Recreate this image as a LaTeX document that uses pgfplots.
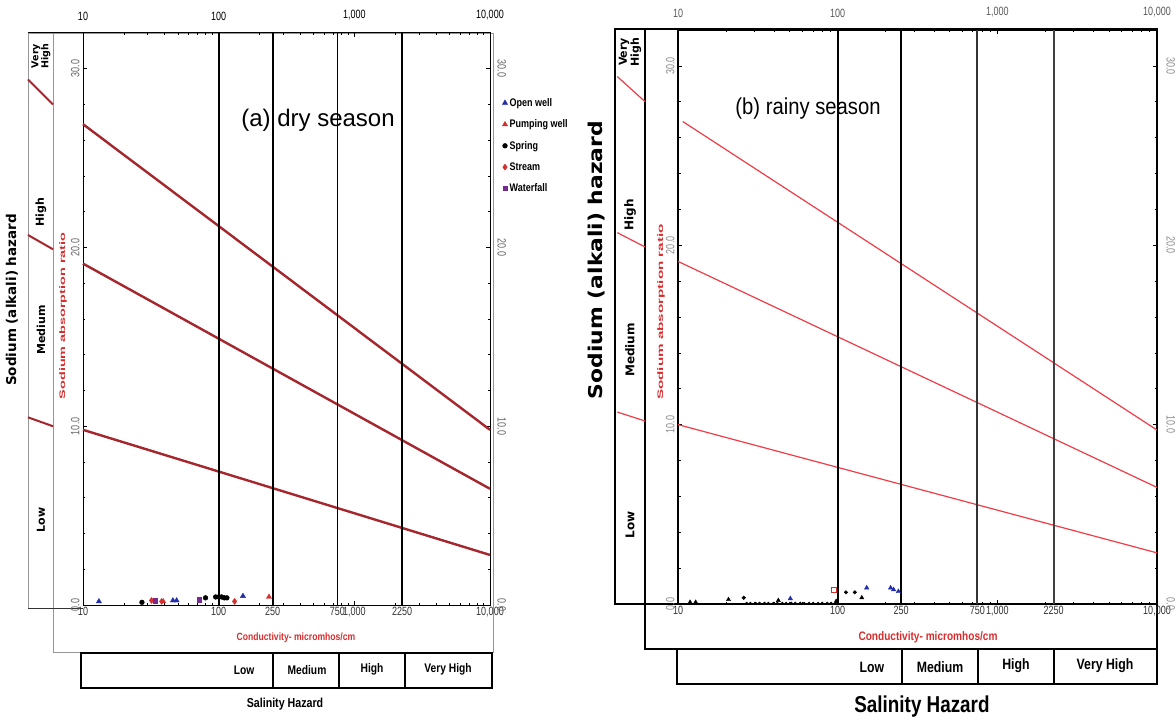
\documentclass[border=0pt]{standalone}
\usepackage{fontspec}
\setmainfont{Liberation Sans}
\newfontfamily\narrow[FakeStretch=0.82]{Liberation Sans}
\newfontfamily\tnarrow[FakeStretch=0.75]{Liberation Sans}
\newfontfamily\tfont[FakeStretch=0.88]{Liberation Sans}
\newfontfamily\dvb{DejaVu Sans}
\usepackage{pgfplots}
\pgfplotsset{compat=1.18}
\definecolor{lineA}{RGB}{165,38,45}
\definecolor{lineB}{RGB}{240,60,70}
\definecolor{redtxt}{RGB}{215,45,45}
\definecolor{bluem}{RGB}{35,45,170}
\definecolor{purm}{RGB}{120,40,145}
\definecolor{redm}{RGB}{215,45,45}
\definecolor{fgray}{RGB}{150,150,150}
\begin{document}
\begin{tikzpicture}[x=1pt,y=1pt]
\useasboundingbox (0,0) rectangle (1176,721);

\begin{scope}[yshift=721pt, y=-1pt]
% ---------------- panel (a) decorations
\draw[fgray, line width=0.7pt] (28,33) rectangle (53,608);
\draw[fgray, line width=0.7pt] (53,33) rectangle (493,652);
\draw[black, line width=1pt] (28,33) -- (83,33);
\draw[black!80, line width=1pt] (28,608) -- (83,608);
\draw[black, line width=1.3pt] (81,653) rectangle (492,688);
\draw[black, line width=1.3pt] (273,653)--(273,688) (339,653)--(339,688) (405,653)--(405,688);
\node[font=\narrow\bfseries\fontsize{12.5}{13}\selectfont] at (244,670) {Low};
\node[font=\narrow\bfseries\fontsize{12.5}{13}\selectfont] at (307,670) {Medium};
\node[font=\narrow\bfseries\fontsize{12.5}{13}\selectfont] at (372,669) {High};
\node[font=\narrow\bfseries\fontsize{12.5}{13}\selectfont] at (448,669) {Very High};
\node[font=\narrow\bfseries\fontsize{13}{14}\selectfont] at (285,704) {Salinity Hazard};
\node[font=\narrow\bfseries\fontsize{10.5}{11}\selectfont, text=redtxt] at (296,638) {Conductivity- micromhos/cm};
\node[font=\fontsize{24}{26}\selectfont] at (318,120) {(a) dry season};
\node[rotate=90, font=\dvb\bfseries\fontsize{13.5}{14}\selectfont] at (12,300) {Sodium (alkali) hazard};
\node[rotate=90, font=\bfseries\fontsize{8}{9}\selectfont, text=redtxt] at (63,316) {\scalebox{1.8}[1]{Sodium absorption ratio}};
\node[rotate=90, align=center, font=\dvb\bfseries\fontsize{9.5}{10}\selectfont] at (41,56) {Very\\High};
\node[rotate=90, font=\dvb\bfseries\fontsize{11}{12}\selectfont] at (41,212) {High};
\node[rotate=90, font=\dvb\bfseries\fontsize{11}{12}\selectfont] at (41,330) {Medium};
\node[rotate=90, font=\dvb\bfseries\fontsize{11}{12}\selectfont] at (41,520) {Low};

% ---------------- panel (b) decorations
\draw[black, line width=1.3pt] (615,29) rectangle (645,604);
\draw[black, line width=1.3pt] (645,29) rectangle (1157,649);
\draw[black, line width=1.3pt] (615,29) -- (678,29);
\draw[black, line width=1.3pt] (615,604) -- (678,604);
\draw[black, line width=1.3pt] (677,649) rectangle (1157,684);
\draw[black, line width=1.3pt] (902,649)--(902,684) (978,649)--(978,684) (1054,649)--(1054,684);
\node[font=\narrow\bfseries\fontsize{15}{16}\selectfont] at (872,667) {Low};
\node[font=\narrow\bfseries\fontsize{15}{16}\selectfont] at (940,667) {Medium};
\node[font=\narrow\bfseries\fontsize{15}{16}\selectfont] at (1016,666) {High};
\node[font=\narrow\bfseries\fontsize{15}{16}\selectfont] at (1105,666) {Very High};
\node[font=\narrow\bfseries\fontsize{23}{25}\selectfont] at (922,707) {Salinity Hazard};
\node[font=\narrow\bfseries\fontsize{12.3}{13}\selectfont, text=redtxt] at (928,637) {Conductivity- micromhos/cm};
\node[font=\tfont\fontsize{23}{25}\selectfont] at (808,109) {(b) rainy season};
\node[rotate=90, font=\dvb\bfseries\fontsize{19}{20}\selectfont] at (597,260) {\scalebox{1.15}[1]{Sodium (alkali) hazard}};
\node[rotate=90, font=\bfseries\fontsize{8}{9}\selectfont, text=redtxt] at (661,312) {\scalebox{1.9}[1]{Sodium absorption ratio}};
\node[rotate=90, align=center, font=\dvb\bfseries\fontsize{11}{12}\selectfont] at (630,52) {Very\\High};
\node[rotate=90, font=\dvb\bfseries\fontsize{12}{13}\selectfont] at (630,215) {High};
\node[rotate=90, font=\dvb\bfseries\fontsize{12}{13}\selectfont] at (630,350) {Medium};
\node[rotate=90, font=\dvb\bfseries\fontsize{12}{13}\selectfont] at (630,525) {Low};
\end{scope}

% ================= axis (a)
\begin{axis}[at={(83pt,116pt)}, anchor=south west, scale only axis, width=407pt, height=572pt,
  xmode=log, xmin=10, xmax=10000, ymin=0, ymax=32, clip=false,
  xtick={10,100,250,750,1000,2250,10000},
  xticklabels={10,100,250,750,{1,000},2250,{10,000}},
  minor xtick={20,30,40,50,60,70,80,90,200,300,400,500,600,700,800,900,2000,3000,4000,5000,6000,7000,8000,9000},
  ytick={0,10,20,30}, yticklabels={0.0,10.0,20.0,30.0},
  minor ytick={2,4,6,8,12,14,16,18,22,24,26,28},
  major tick length=4pt, minor tick length=2.5pt,
  tick style={line width=0.6pt, black},
  xticklabel style={font=\tnarrow\fontsize{12}{13}\selectfont, text=black!80, inner sep=1.5pt},
  yticklabel style={rotate=90, anchor=south, font=\tnarrow\fontsize{12}{13}\selectfont, text=black!60},
  axis line style={line width=1pt},
  legend style={at={(axis description cs:1.03,0.89)}, anchor=north west, draw=none, fill=none,
    font=\narrow\bfseries\fontsize{11}{12}\selectfont, row sep=8pt, inner sep=0pt},
  legend cell align=left]
\addplot[lineA, line width=2.4pt, forget plot] coordinates {(10,9.8) (10000,2.8)};
\addplot[lineA, line width=2.4pt, forget plot] coordinates {(10,19.1) (10000,6.5)};
\addplot[lineA, line width=2.4pt, forget plot] coordinates {(10,26.9) (10000,9.8)};
\addplot[lineA, line width=2pt, forget plot] coordinates {(3.93,29.4) (6.01,28.0)};
\addplot[lineA, line width=2pt, forget plot] coordinates {(3.93,20.7) (6.01,19.9)};
\addplot[lineA, line width=2pt, forget plot] coordinates {(3.93,10.5) (6.01,10.0)};
\addplot[black, line width=1.7pt, forget plot] coordinates {(100,0) (100,32)};
\addplot[black, line width=1.7pt, forget plot] coordinates {(250,0) (250,32)};
\addplot[black, line width=1.7pt, forget plot] coordinates {(750,0) (750,32)};
\addplot[black, line width=1.7pt, forget plot] coordinates {(2250,0) (2250,32)};
\addplot[only marks, mark=triangle*, bluem, mark size=3pt] coordinates {(13.1,0.2) (46,0.25) (49,0.25) (151,0.5)};
\addlegendentry{Open well}
\addplot[only marks, mark=triangle*, redm, mark size=3pt] coordinates {(39,0.2) (235,0.45)};
\addlegendentry{Pumping well}
\addplot[only marks, mark=*, black, mark size=2.4pt] coordinates {(27.2,0.15) (80,0.4) (95,0.45) (100,0.45) (105,0.45) (110,0.4) (115,0.4)};
\addlegendentry{Spring}
\addplot[only marks, mark=diamond*, redm, mark size=3pt] coordinates {(32,0.25) (38,0.2) (131,0.2)};
\addlegendentry{Stream}
\addplot[only marks, mark=square*, purm, mark size=2.2pt] coordinates {(34,0.25) (71.5,0.3)};
\addlegendentry{Waterfall}
\node[anchor=south, yshift=9pt, font=\tnarrow\fontsize{12}{13}\selectfont] at (axis cs:10,32) {10};
\node[anchor=south, yshift=9pt, font=\tnarrow\fontsize{12}{13}\selectfont] at (axis cs:100,32) {100};
\node[anchor=south, yshift=9pt, font=\tnarrow\fontsize{12}{13}\selectfont] at (axis cs:1000,32) {1,000};
\node[anchor=south, yshift=9pt, font=\tnarrow\fontsize{12}{13}\selectfont] at (axis cs:10000,32) {10,000};
\node[rotate=-90, anchor=south, font=\tnarrow\fontsize{12}{13}\selectfont, text=black!60] at ([xshift=4pt]axis cs:10000,30) {30.0};
\node[rotate=-90, anchor=south, font=\tnarrow\fontsize{12}{13}\selectfont, text=black!60] at ([xshift=4pt]axis cs:10000,20) {20.0};
\node[rotate=-90, anchor=south, font=\tnarrow\fontsize{12}{13}\selectfont, text=black!60] at ([xshift=4pt]axis cs:10000,10) {10.0};
\node[rotate=-90, anchor=south, font=\tnarrow\fontsize{12}{13}\selectfont, text=black!60] at ([xshift=4pt]axis cs:10000,0) {0.0};
\end{axis}

% ================= axis (b)
\begin{axis}[at={(678pt,117pt)}, anchor=south west, scale only axis, width=479pt, height=574pt,
  xmode=log, xmin=10, xmax=10000, ymin=0, ymax=32, clip=false,
  xtick={10,100,250,750,1000,2250,10000},
  xticklabels={10,100,250,750,{1,000},2250,{10,000}},
  minor xtick={20,30,40,50,60,70,80,90,200,300,400,500,600,700,800,900,2000,3000,4000,5000,6000,7000,8000,9000},
  ytick={0,10,20,30}, yticklabels={0.0,10.0,20.0,30.0},
  minor ytick={2,4,6,8,12,14,16,18,22,24,26,28},
  major tick length=4pt, minor tick length=2.5pt,
  tick style={line width=0.6pt, black},
  xticklabel style={font=\tnarrow\fontsize{12}{13}\selectfont, text=black!80, inner sep=1.5pt},
  yticklabel style={rotate=90, anchor=south, font=\tnarrow\fontsize{12}{13}\selectfont, text=black!45},
  axis line style={line width=1.4pt}]
\addplot[lineB, line width=1.2pt, forget plot] coordinates {(10.7,26.9) (10000,9.7)};
\addplot[lineB, line width=1.2pt, forget plot] coordinates {(10,19.1) (10000,6.5)};
\addplot[lineB, line width=1.2pt, forget plot] coordinates {(10,10.0) (10000,2.85)};
\addplot[lineB, line width=1.2pt, forget plot] coordinates {(4.17,29.4) (6.23,28.0)};
\addplot[lineB, line width=1.2pt, forget plot] coordinates {(4.17,20.7) (6.23,19.9)};
\addplot[lineB, line width=1.2pt, forget plot] coordinates {(4.17,10.7) (6.23,10.2)};
\addplot[black, line width=1.8pt, forget plot] coordinates {(100,0) (100,32)};
\addplot[black, line width=1.8pt, forget plot] coordinates {(250,0) (250,32)};
\addplot[black!80, line width=2pt, forget plot] coordinates {(750,0) (750,32)};
\addplot[black!75, line width=2pt, forget plot] coordinates {(2250,0) (2250,32)};
\addplot[only marks, mark=*, black, mark size=1.3pt] coordinates {(26.9,0.04) (28.4,0.04) (30.6,0.04) (32.4,0.04) (34.8,0.04) (36.8,0.04) (39.6,0.04) (41.9,0.04) (45.0,0.04) (47.6,0.04) (51.2,0.04) (54.2,0.04) (58.3,0.04) (61.7,0.04) (66.3,0.04) (70.2,0.04) (75.5,0.04) (80.0,0.04) (86.0,0.04) (91.0,0.04) (97.8,0.04)};
\addplot[only marks, mark=triangle*, black, mark size=2.4pt] coordinates {(11.9,0.1) (12.9,0.1) (20.7,0.25) (42.5,0.2) (97.8,0.15) (141.6,0.35)};
\addplot[only marks, mark=*, black, mark size=1.8pt] coordinates {(25.8,0.35) (112.7,0.65) (128,0.65)};
\addplot[only marks, mark=triangle*, bluem, mark size=2.6pt] coordinates {(50.5,0.3) (152,0.9) (214.6,0.9) (224,0.8) (240,0.7)};
\addplot[only marks, mark=square, redm, mark size=2.3pt, line width=0.9pt] coordinates {(94.8,0.8)};
\node[anchor=south, yshift=9pt, font=\tnarrow\fontsize{12}{13}\selectfont, text=black!65] at (axis cs:10,32) {10};
\node[anchor=south, yshift=9pt, font=\tnarrow\fontsize{12}{13}\selectfont, text=black!65] at (axis cs:100,32) {100};
\node[anchor=south, yshift=9pt, font=\tnarrow\fontsize{12}{13}\selectfont, text=black!65] at (axis cs:1000,32) {1,000};
\node[anchor=south, yshift=9pt, font=\tnarrow\fontsize{12}{13}\selectfont, text=black!65] at (axis cs:10000,32) {10,000};
\node[rotate=-90, anchor=south, font=\tnarrow\fontsize{12}{13}\selectfont, text=black!45] at ([xshift=6pt]axis cs:10000,30) {30.0};
\node[rotate=-90, anchor=south, font=\tnarrow\fontsize{12}{13}\selectfont, text=black!45] at ([xshift=6pt]axis cs:10000,20) {20.0};
\node[rotate=-90, anchor=south, font=\tnarrow\fontsize{12}{13}\selectfont, text=black!45] at ([xshift=6pt]axis cs:10000,10) {10.0};
\node[rotate=-90, anchor=south, font=\tnarrow\fontsize{12}{13}\selectfont, text=black!45] at ([xshift=6pt]axis cs:10000,0) {0.0};
\end{axis}
\end{tikzpicture}
\end{document}
